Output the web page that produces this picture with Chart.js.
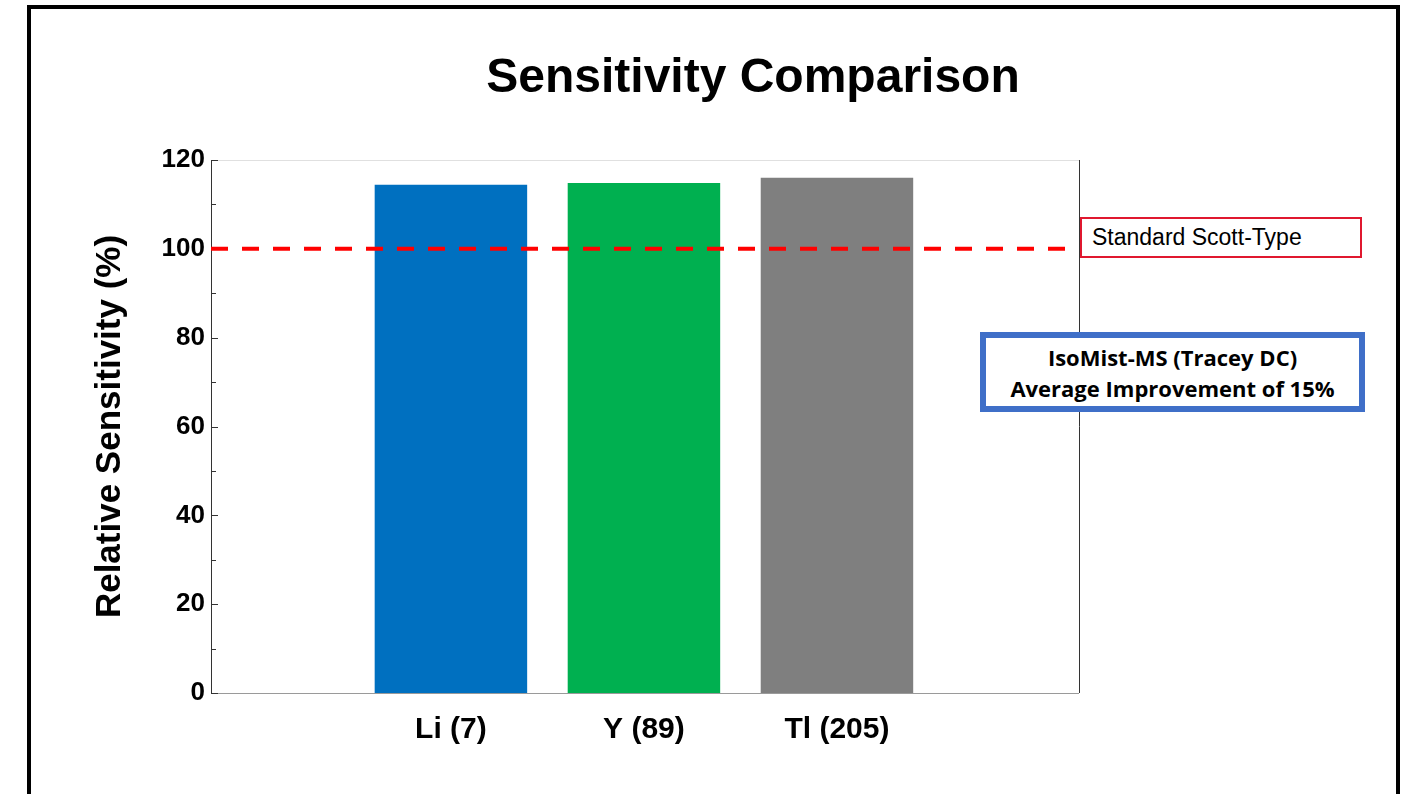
<!DOCTYPE html>
<html>
<head>
<meta charset="utf-8">
<script src="https://cdn.jsdelivr.net/npm/chart.js@4"></script>
<style>
  html, body { margin: 0; padding: 0; background: #fff; }
  #wrap { position: relative; width: 1418px; height: 794px; overflow: hidden; }
  #frame { position: absolute; left: 27px; top: 5px; width: 1365px; height: 820px; border: 4px solid #000; box-sizing: content-box; pointer-events: none; }
  canvas { position: absolute; left: 0; top: 0; }
  #title { position: absolute; left: 253px; width: 1000px; top: 47px; text-align: center;
           font: bold 48px "Liberation Sans", Arial, sans-serif; color: #000; line-height: 58px; }
  .box1 { position: absolute; left: 1080px; top: 217px; width: 282px; height: 41px; border: 2px solid #e0182f; background: #fff;
          font: 23px "Liberation Sans", Arial, sans-serif; color: #000; line-height: 37px; padding-left: 10px; box-sizing: border-box; }
  .box2 { position: absolute; left: 980px; top: 332px; width: 385px; height: 80px; border: 6px solid #3f6fc8; background: #fff;
          font: bold 22px "Open Sans", sans-serif; color: #000; text-align: center; line-height: 31px; padding-top: 4px; box-sizing: border-box; }
</style>
</head>
<body>
<div id="wrap">
  <canvas id="c" width="1418" height="794"></canvas>
  <div id="frame"></div>
  <div id="title">Sensitivity Comparison</div>
  <div class="box1">Standard Scott-Type</div>
  <div class="box2">IsoMist-MS (Tracey DC)<br>Average Improvement of 15%</div>
</div>
<script>
const categories = ['Li (7)', 'Y (89)', 'Tl (205)'];
const sensitivity = [114.4, 114.8, 116.0];
const barColors = ['#0070c0', '#00b050', '#7f7f7f'];
const yTicks = [0, 20, 40, 60, 80, 100, 120];
const referenceValue = 100;
const yTitle = 'Relative Sensitivity (%)';

const points = categories.map((c, i) => ({ x: i + 1, y: sensitivity[i] }));

const framePlugin = {
  id: 'framePlugin',
  beforeDatasetsDraw(chart) {
    const { ctx, chartArea: a } = chart;
    ctx.save();
    ctx.strokeStyle = '#e0e0e0'; ctx.lineWidth = 1;
    ctx.beginPath(); ctx.moveTo(a.left, a.top + 0.5); ctx.lineTo(a.right, a.top + 0.5); ctx.stroke();
    ctx.strokeStyle = '#9a9a9a';
    ctx.beginPath(); ctx.moveTo(a.left, a.bottom + 0.5); ctx.lineTo(a.right, a.bottom + 0.5); ctx.stroke();
    ctx.strokeStyle = '#333';
    ctx.beginPath(); ctx.moveTo(a.right + 0.5, a.top); ctx.lineTo(a.right + 0.5, a.bottom); ctx.stroke();
    ctx.beginPath(); ctx.moveTo(a.left + 0.5, a.top); ctx.lineTo(a.left + 0.5, a.bottom + 1); ctx.stroke();
    const ys = chart.scales.y;
    ys.ticks.forEach(t => {
      const py = Math.round(ys.getPixelForValue(t.value)) + 0.5;
      const len = yTicks.includes(t.value) ? 7 : 5;
      ctx.beginPath(); ctx.moveTo(a.left, py); ctx.lineTo(a.left + len, py); ctx.stroke();
    });
    ctx.restore();
  },
  afterDatasetsDraw(chart) {
    const { ctx, chartArea: a } = chart;
    const py = chart.scales.y.getPixelForValue(referenceValue);
    ctx.save();
    ctx.strokeStyle = '#ff0000'; ctx.lineWidth = 4;
    ctx.setLineDash([17, 14]);
    ctx.beginPath(); ctx.moveTo(a.left, py); ctx.lineTo(a.right, py); ctx.stroke();
    ctx.restore();
  }
};

new Chart(document.getElementById('c'), {
  type: 'bar',
  data: {
    datasets: [{
      data: points,
      backgroundColor: barColors,
      borderWidth: 0,
      barPercentage: 0.79,
      categoryPercentage: 1.0
    }]
  },
  options: {
    responsive: false,
    animation: false,
    layout: { padding: { left: 0, right: 339, top: 160, bottom: 0 } },
    plugins: {
      legend: { display: false },
      tooltip: { enabled: false },
      title: { display: false }
    },
    scales: {
      x: {
        type: 'linear', min: -0.243, max: 4.254, offset: false,
        afterBuildTicks: s => { s.ticks = categories.map((c, i) => ({ value: i + 1 })); },
        afterFit: s => { s.height = 101; s.paddingLeft = 0; s.paddingRight = 0; },
        grid: { display: false, drawTicks: false, offset: false },
        border: { display: false },
        ticks: {
          color: '#000', padding: 19,
          font: { family: 'Liberation Sans, Arial, sans-serif', size: 30, weight: 'bold' },
          callback: v => categories[v - 1] || ''
        }
      },
      y: {
        min: 0, max: 120,
        afterBuildTicks: s => { const t = []; for (let v = 0; v <= 120; v += 10) t.push({ value: v }); s.ticks = t; },
        afterFit: s => { s.width = 211; s.paddingTop = 0; s.paddingBottom = 0; },
        grid: { display: false, drawTicks: false },
        border: { display: false },
        ticks: {
          color: '#000', padding: 6,
          font: { family: 'Liberation Sans, Arial, sans-serif', size: 26, weight: 'bold' },
          callback: v => yTicks.includes(v) ? String(v) : ''
        },
        title: {
          display: true, text: yTitle, color: '#000',
          font: { family: 'Liberation Sans, Arial, sans-serif', size: 35, weight: 'bold' },
          padding: { top: 89, bottom: 0 }
        }
      }
    }
  },
  plugins: [framePlugin]
});
</script>
</body>
</html>
